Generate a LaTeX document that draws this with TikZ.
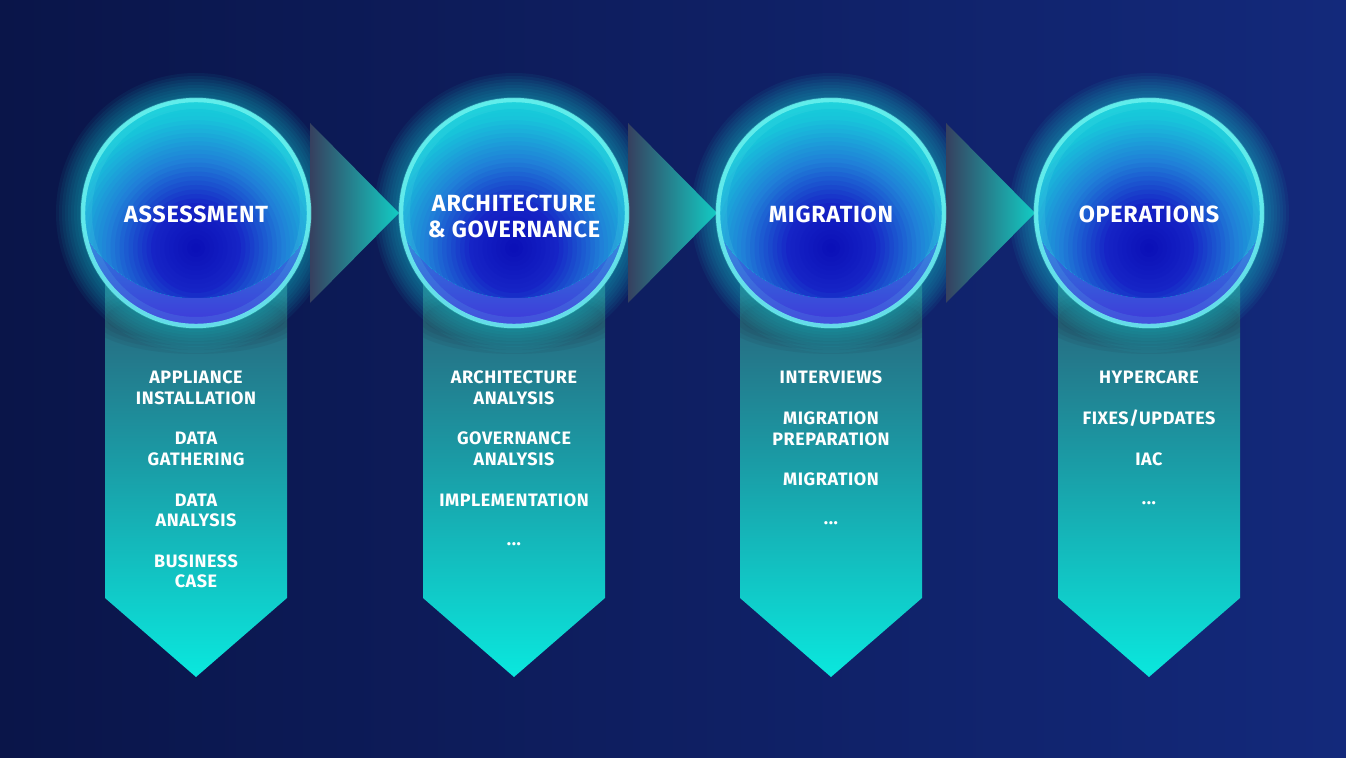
\documentclass[tikz,border=0pt]{standalone}
\usepackage{fontspec}
\setmainfont{Fira Sans}[LetterSpace=3]
\definecolor{bgL}{HTML}{0A1549}
\definecolor{bgR}{HTML}{13297B}
\definecolor{banT}{HTML}{2D5570}
\definecolor{banM}{HTML}{1A9CA6}
\definecolor{banB}{HTML}{0AE8DE}
\definecolor{glowc}{HTML}{19C8D0}
\definecolor{triL}{HTML}{36405F}
\definecolor{triR}{HTML}{12CCC4}
\definecolor{crB}{HTML}{4036DA}
\definecolor{crT}{HTML}{2A86DA}
\definecolor{orbA}{HTML}{0A0EB6}
\definecolor{orbB}{HTML}{1624C6}
\definecolor{orbC}{HTML}{2080D8}
\definecolor{orbD}{HTML}{18C4DA}
\definecolor{orbE}{HTML}{12DEDA}
\definecolor{rimc}{HTML}{6CF2EE}
\definecolor{shadowc}{HTML}{1A2A40}
\newcommand{\tdots}{...}
\newcommand{\fxup}{FIXES/UPDATES}
\begin{document}
\begin{tikzpicture}[x=0.5pt,y=-0.5pt,
  title/.style={text=white,font=\fontsize{11.7}{13}\selectfont\bfseries,anchor=base,inner sep=0pt},
  item/.style={text=white,font=\fontsize{9}{10}\selectfont\bfseries,anchor=base,inner sep=0pt},
  banner/.style={top color=banT,bottom color=banB,middle color=banM},
  arrowtri/.style={left color=triL,right color=triR}]
\useasboundingbox (0,0) rectangle (1346,758);
\shade[left color=bgL,right color=bgR] (0,0) rectangle (1346,758);
% banners with soft shadow under the orb
\foreach \cx in {196,514,831,1149}{
  \shade[banner] (\cx-91,250) -- (\cx+91,250) -- (\cx+91,598) -- (\cx,677) -- (\cx-91,598) -- cycle;
  \begin{scope}
    \clip (\cx-91,250) rectangle (\cx+91,400);
    \foreach \a/\b in {108/36,102/32,96/28,90/24}{
      \fill[shadowc,opacity=0.09] (\cx,318) ellipse ({\a} and {\b});
    }
  \end{scope}
}
% glows
\foreach \cx in {196,514,831,1149}{
  \foreach \r in {140,137,...,113}{
    \fill[glowc,opacity=0.065] (\cx,213) circle (\r);
  }
}
% arrows
\foreach \ax in {310,628,946}{
  \shade[arrowtri] (\ax,123) -- (\ax,303) -- (\ax+89,213) -- cycle;
}
% orbs
\foreach \cx in {196,514,831,1149}{
  \begin{scope}
    \clip (\cx,213) circle (114);
    \shade[top color=crT,bottom color=crB] (\cx-114,228) rectangle (\cx+114,328);
    \clip (\cx,170) circle (128);
    \foreach \ra/\rb/\ca/\cb in {170/132/orbE/orbD, 132/90/orbD/orbC, 90/45/orbC/orbB, 45/0/orbB/orbA}{
      \foreach \j in {0,...,9}{
        \pgfmathsetmacro{\rr}{\ra-(\ra-\rb)*\j/10}
        \pgfmathsetmacro{\pp}{10*\j}
        \fill[\cb!\pp!\ca] (\cx,248) circle (\rr);
      }
    }
  \end{scope}
  \draw[rimc,opacity=0.12,line width=6] (\cx,213) circle (110);
  \draw[rimc,opacity=0.85,line width=2.2] (\cx,213) circle (113);
}
% titles
\node[title] (t1) at (196,222.5) {ASSESSMENT};
\node[title] (t2a) at (514,211.5) {ARCHITECTURE};
\node[title] (t2b) at (514,237.5) {\& GOVERNANCE};
\node[title] (t3) at (831,222.5) {MIGRATION};
\node[title] (t4) at (1149,222.5) {OPERATIONS};
% items
\foreach \x/\y/\t [count=\k] in {
  196/384/APPLIANCE, 196/404.5/INSTALLATION, 196/445/DATA, 196/466/GATHERING,
  196/507/DATA, 196/527/ANALYSIS, 196/568/BUSINESS, 196/588/CASE,
  514/384/ARCHITECTURE, 514/404.5/ANALYSIS, 514/445/GOVERNANCE, 514/466/ANALYSIS,
  514/507/IMPLEMENTATION, 514/546/\tdots,
  831/384/INTERVIEWS, 831/425/MIGRATION, 831/445.5/PREPARATION, 831/486/MIGRATION, 831/525/\tdots,
  1149/384/HYPERCARE, 1149/425/\fxup, 1149/466/IAC, 1149/505/\tdots}{
  \node[item] (i\k) at (\x,\y) {\t};
}
\end{tikzpicture}
\end{document}
